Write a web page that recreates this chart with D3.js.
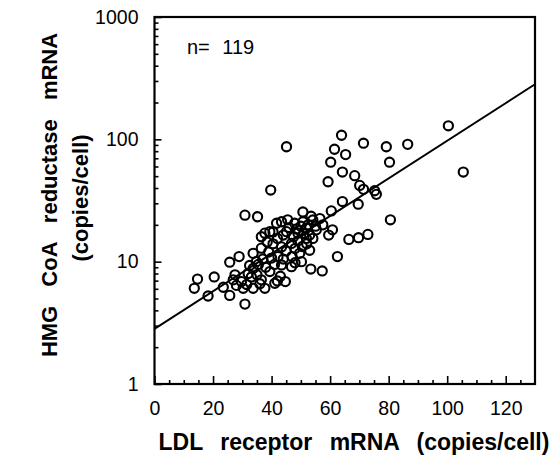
<!DOCTYPE html>
<html><head><meta charset="utf-8">
<script src="https://cdn.jsdelivr.net/npm/d3@7"></script>
<style>body{margin:0;background:#fff}svg{display:block}text{font-family:"Liberation Sans",Arial,sans-serif;fill:#000}</style>
</head><body>
<svg id="c" width="558" height="460"></svg>
<script>
// LDL receptor mRNA (copies/cell)
const ldl = [100.4,105.5,63.9,45.1,71.4,79.2,86.5,61.5,65.3,60.2,80.3,64.2,68.4,59.3,70.1,71.4,75.2,75.8,64.2,69.6,60.4,50.7,39.7,80.6,
 66.4,69.7,72.9,62.5,57.3,53.4,57.5,60.8,59.5,30.9,35.2,
 13.6,14.7,18.3,20.4,25.7,30.9,25.7,28.9,44.7,42,23.5,26.9,30.3,33.7,29.7,33.1,36.5,37.7,33.7,34.8,33.7,36.5,36.5,39.4,37.7,41.7,40,39.4,41.1,
 43.4,45.1,54.1,49.6,53,54.1,50.2,46.8,43.4,42.2,43.4,49,51.9,50.7,47.9,55.3,51.9,46.8,
 31.5,32,35,38,37,39,40.5,42,44,46,47.5,48.5,50,51,52.5,53,49,45,44,41,47,48,52,55,35.5,38.5,28,27.5,40.5,56.5,53.5,45.5,36,43,32.5,48,50.5];
// HMG CoA reductase mRNA (copies/cell)
const hmg = [129,54,108,87,93,87,91,83,75,65,65,54,50.5,45,42,39,38,35.5,31,29.5,26,25.5,38.5,22,
 15.2,15.7,16.7,11,8.4,8.7,20,18.2,16.5,24,23.3,
 6.06,7.2,5.24,7.5,5.3,4.5,9.9,11,6.87,6.95,6.18,7.1,6.06,6.06,6.87,7.5,7.1,6.06,8.8,10,11.7,12.9,16,17.6,17.1,20.6,10.7,8.3,6.66,
 21.2,17.6,21.9,11.7,12.4,15.5,10,9.1,9.4,11,13.2,17.1,18.8,21.2,20.6,18.2,15.5,14.1,
 6.5,8.0,7.8,9.0,10.5,12,14,15.5,16.5,19,16,18.5,19.5,17,20,16.5,14.8,12.2,10.5,9.5,11,9.8,14,19.5,9.5,14.5,6.4,7.8,17.5,22.5,23.5,22,6.6,7.6,9.3,12.8,13.3];
// regression line end points
const fitX = [0,130];
const fitY = [2.82,282];
const xTicks = [0,20,40,60,80,100,120];
const yTicks = [1,10,100,1000];
const nLabel = "n= 119";
const xTitle = "LDL receptor mRNA (copies/cell)";
const yTitle1 = "HMG CoA reductase mRNA";
const yTitle2 = "(copies/cell)";

const svg = d3.select("#c");
const L=154.5,R=535,T=17,B=384;
const x = d3.scaleLinear().domain([0,130]).range([L,R]);
const y = d3.scaleLog().domain([1,1000]).range([B,T]);

const xMinor = d3.range(5,130,5).filter(v=>v%20!==0);
const yMinor = [];
[1,10,100].forEach(d=>{for(let k=2;k<=9;k++) yMinor.push(d*k);});

const gx = svg.append("g").attr("transform",`translate(0,${B})`);
gx.call(d3.axisBottom(x).tickValues(xTicks).tickSizeInner(-8).tickSizeOuter(0).tickPadding(17).tickFormat(d3.format("d")));
gx.append("g").call(d3.axisBottom(x).tickValues(xMinor).tickSizeInner(-4).tickSizeOuter(0).tickFormat(""));
const gy = svg.append("g").attr("transform",`translate(${L},0)`);
gy.call(d3.axisLeft(y).tickValues(yTicks).tickSizeInner(-7).tickSizeOuter(0).tickPadding(16).tickFormat(d3.format("d")));
gy.append("g").call(d3.axisLeft(y).tickValues(yMinor).tickSizeInner(-4).tickSizeOuter(0).tickFormat(""));
svg.selectAll(".domain").remove();
svg.selectAll(".tick line").attr("stroke","#000").attr("stroke-width",1.6);
svg.selectAll(".tick text").attr("font-size",19.5).attr("fill","#000");

svg.append("rect").attr("x",L).attr("y",T).attr("width",R-L).attr("height",B-T)
  .attr("fill","none").attr("stroke","#000").attr("stroke-width",2.2);

svg.append("path").datum(fitX.map((v,i)=>[v,fitY[i]]))
  .attr("d",d3.line().x(d=>x(d[0])).y(d=>y(d[1])))
  .attr("fill","none").attr("stroke","#000").attr("stroke-width",2);

svg.append("g").selectAll("circle").data(ldl.map((v,i)=>[v,hmg[i]])).join("circle")
  .attr("cx",d=>x(d[0])).attr("cy",d=>y(d[1])).attr("r",4.6)
  .attr("fill","none").attr("stroke","#000").attr("stroke-width",2.1);

svg.append("text").attr("x",187).attr("y",54).attr("font-size",20).style("word-spacing","7px").text(nLabel);

svg.append("text").attr("x",354).attr("y",450).attr("text-anchor","middle")
  .attr("font-size",23).attr("font-weight","bold").style("word-spacing","11px").text(xTitle);
svg.append("text").attr("transform","translate(57,195) rotate(-90)").attr("text-anchor","middle")
  .attr("font-size",22).attr("font-weight","bold").style("word-spacing","13px").text(yTitle1);
svg.append("text").attr("transform","translate(88,198) rotate(-90)").attr("text-anchor","middle")
  .attr("font-size",22).attr("font-weight","bold").text(yTitle2);
</script>
</body></html>
